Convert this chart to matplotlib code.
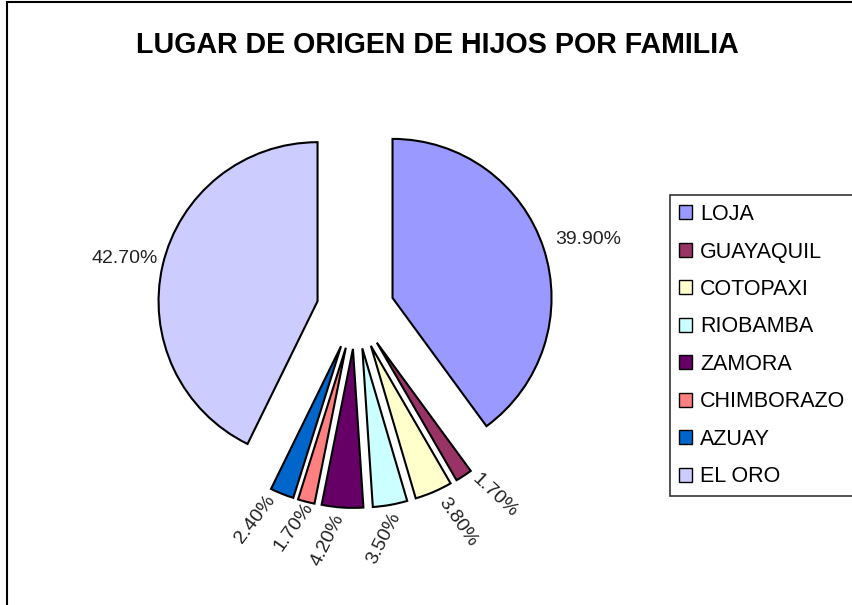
import numpy as np
import matplotlib.pyplot as plt
from matplotlib.patches import Rectangle

plt.rcParams['font.family'] = ['Liberation Sans', 'DejaVu Sans']

# Data
lugares = ['LOJA', 'GUAYAQUIL', 'COTOPAXI', 'RIOBAMBA', 'ZAMORA', 'CHIMBORAZO', 'AZUAY', 'EL ORO']
porcentajes = [39.9, 1.7, 3.8, 3.5, 4.2, 1.7, 2.4, 42.7]
colores = ['#9999FF', '#993366', '#FFFFCC', '#CCFFFF', '#660066', '#FF8080', '#0066CC', '#CCCCFF']
# data label placement as drawn in the original: rotation, angular nudge (deg), distance (radii)
rot_etiquetas = [0, -43, -55, 63, 64, 55, 53, 0]
ajuste_ang = [-1.3, 3.8, 2.6, -3.0, -3.2, -1.4, -3.9, 0.4]
dist_etiquetas = [1.53, 1.46, 1.48, 1.45, 1.46, 1.42, 1.46, 1.49]

W, H = 853, 605
CX, CY, R = 355.5, 310, 159  # pie centre / radius in pixels

fig = plt.figure(figsize=(W / 100, H / 100), dpi=100)
ax = fig.add_axes([0, 0, 1, 1])

wedges, texts = ax.pie(porcentajes, colors=colores, startangle=90, counterclock=False,
                       explode=[0.245] * len(porcentajes),
                       labels=[f'{v:.2f}%' for v in porcentajes], labeldistance=1.23,
                       wedgeprops=dict(edgecolor='black', linewidth=1.5),
                       textprops=dict(fontsize=14, color='#222222'))

for w, t, rot, da, d in zip(wedges, texts, rot_etiquetas, ajuste_ang, dist_etiquetas):
    ang = np.deg2rad((w.theta1 + w.theta2) / 2 + da)
    t.set_position((d * np.cos(ang), d * np.sin(ang)))
    t.set_rotation(rot)
    t.set_rotation_mode('anchor')
    t.set_ha('center')
    t.set_va('center')

ax.set_xlim(-CX / R, (W - CX) / R)
ax.set_ylim(-(H - CY) / R, CY / R)
ax.set_aspect('auto')
ax.axis('off')

fig.text(437 / W, 1 - 45 / H, 'LUGAR DE ORIGEN DE HIJOS POR FAMILIA',
         ha='center', va='center', fontsize=20.6, fontweight='bold')

leg = fig.legend(wedges, lugares, loc='upper left', bbox_to_anchor=(670 / W, 1 - 195 / H),
                 borderaxespad=0, fontsize=15.5, frameon=True, fancybox=False,
                 edgecolor='black', handlelength=0.62, handleheight=0.62,
                 handletextpad=0.35, labelspacing=0.765, borderpad=0.42)
leg.get_frame().set_linewidth(1.2)
for h in leg.legend_handles:
    h.set_linewidth(1)

# outer chart frame (right and bottom sides fall outside the image)
fig.patches.append(Rectangle((7 / W, -0.1), 1.2, 1.1 - 2 / H, transform=fig.transFigure,
                             fill=False, edgecolor='black', linewidth=1.5))

fig.savefig('out.png', dpi=100)
